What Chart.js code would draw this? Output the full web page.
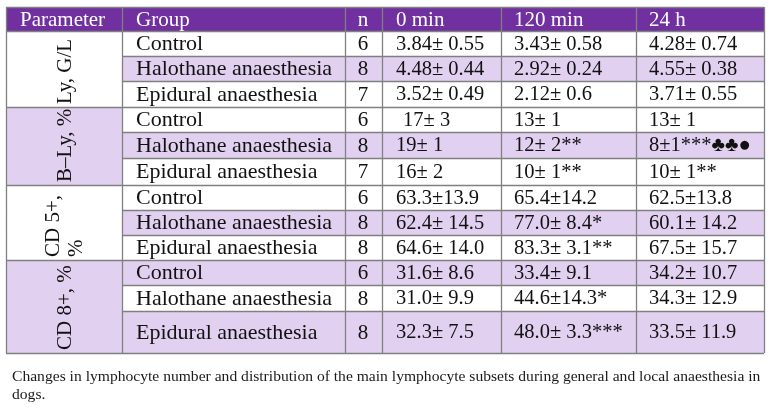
<!DOCTYPE html>
<html>
<head>
<meta charset="utf-8">
<script src="https://cdn.jsdelivr.net/npm/chart.js@4"></script>
<style>
  html, body { margin: 0; padding: 0; background: #fff; }
  #caja { width: 769px; height: 418px; }
</style>
</head>
<body>
<div id="caja"><canvas id="myChart" width="769" height="418"></canvas></div>
<script>
// datos de la tabla
const columnas = ["Parameter", "Group", "n", "0 min", "120 min", "24 h"];
const parametros = ["Ly, G/L", "B\u2013Ly, %", "CD 5+, %", "CD 8+, %"];
const grupos = ["Control", "Halothane anaesthesia", "Epidural anaesthesia"];
const nValores = [6, 8, 7, 6, 8, 7, 6, 8, 8, 6, 8, 8];
const valores0 = ["3.84\u00b1 0.55", "4.48\u00b1 0.44", "3.52\u00b1 0.49",
  "17\u00b1 3", "19\u00b1 1", "16\u00b1 2",
  "63.3\u00b113.9", "62.4\u00b1 14.5", "64.6\u00b1 14.0",
  "31.6\u00b1 8.6", "31.0\u00b1 9.9", "32.3\u00b1 7.5"];
const valores120 = ["3.43\u00b1 0.58", "2.92\u00b1 0.24", "2.12\u00b1 0.6",
  "13\u00b1 1", "12\u00b1 2**", "10\u00b1 1**",
  "65.4\u00b114.2", "77.0\u00b1 8.4*", "83.3\u00b1 3.1**",
  "33.4\u00b1 9.1", "44.6\u00b114.3*", "48.0\u00b1 3.3***"];
const valores24 = ["4.28\u00b1 0.74", "4.55\u00b1 0.38", "3.71\u00b1 0.55",
  "13\u00b1 1", "8\u00b11***\u2663\u2663\u25cf", "10\u00b1 1**",
  "62.5\u00b113.8", "60.1\u00b1 14.2", "67.5\u00b1 15.7",
  "34.2\u00b1 10.7", "34.3\u00b1 12.9", "33.5\u00b1 11.9"];
const leyenda = [
  "Changes in lymphocyte number and distribution of the main lymphocyte subsets during general and local anaesthesia in",
  "dogs."
];

// disposicion (posiciones y estilos, aparte de los datos)
const bordesX = [6, 122, 345, 382, 501, 636, 764];
const bordesY = [7, 31, 56, 81, 107, 132, 158, 185, 210, 235, 260, 285, 311, 353];
const filaRellena = [0, 1, 0, 0, 1, 0, 0, 1, 0, 1, 0, 1];
const paramRelleno = [0, 1, 0, 1];
const morado = "#7030a0";
const lila = "#e2d0f1";
const gris = "#808080";
const fuenteGrupo = "22px 'Liberation Serif', serif";
const fuenteValor = "20.5px 'Liberation Serif', serif";
const fuenteCab = "21px 'Liberation Serif', serif";

// plugin que dibuja la tabla usando las escalas del grafico
const pluginTabla = {
  id: "tabla",
  afterDraw(chart) {
    const ctx = chart.ctx;
    const sx = v => chart.scales.x.getPixelForValue(v);
    const sy = v => chart.scales.y.getPixelForValue(v);
    const celda = (x0, y0, x1, y1, color) => {
      ctx.fillStyle = color;
      ctx.fillRect(sx(x0), sy(y0), sx(x1) - sx(x0), sy(y1) - sy(y0));
    };
    ctx.save();

    // cabecera
    celda(bordesX[0], bordesY[0], bordesX[6], bordesY[1], morado);

    // fondos de filas
    filaRellena.forEach((r, i) => {
      if (r) celda(bordesX[1], bordesY[i + 1], bordesX[6], bordesY[i + 2], lila);
    });
    paramRelleno.forEach((r, g) => {
      if (r) celda(bordesX[0], bordesY[g * 3 + 1], bordesX[1], bordesY[g * 3 + 4], lila);
    });

    // lineas
    ctx.strokeStyle = gris;
    ctx.lineWidth = 1.3;
    ctx.beginPath();
    bordesY.forEach((y, i) => {
      const dentroGrupo = i > 1 && i < bordesY.length - 1 && (i - 1) % 3 !== 0;
      const x0 = dentroGrupo ? bordesX[1] : bordesX[0];
      ctx.moveTo(sx(x0), Math.round(sy(y)) + 0.5);
      ctx.lineTo(sx(bordesX[6]), Math.round(sy(y)) + 0.5);
    });
    bordesX.forEach(x => {
      ctx.moveTo(Math.round(sx(x)) + 0.5, sy(bordesY[0]));
      ctx.lineTo(Math.round(sx(x)) + 0.5, sy(bordesY[bordesY.length - 1]));
    });
    ctx.stroke();

    // textos de cabecera
    ctx.font = fuenteCab;
    ctx.textBaseline = "middle";
    ctx.fillStyle = "#ffffff";
    const medioCab = sy((bordesY[0] + bordesY[1]) / 2) + 1;
    ctx.textAlign = "left";
    ctx.fillText(columnas[0], sx(20), medioCab);
    ctx.fillText(columnas[1], sx(136), medioCab);
    ctx.textAlign = "center";
    ctx.fillText(columnas[2], sx(363), medioCab);
    ctx.textAlign = "left";
    ctx.fillText(columnas[3], sx(396), medioCab);
    ctx.fillText(columnas[4], sx(514), medioCab);
    ctx.fillText(columnas[5], sx(649), medioCab);

    // filas
    ctx.fillStyle = "#111111";
    nValores.forEach((n, i) => {
      const ym = sy((bordesY[i + 1] + bordesY[i + 2]) / 2) + 1;
      ctx.textAlign = "left";
      ctx.font = fuenteGrupo;
      ctx.fillText(grupos[i % 3], sx(136), ym);
      ctx.font = fuenteCab;
      ctx.textAlign = "center";
      ctx.fillText(String(n), sx(363), ym);
      ctx.textAlign = "left";
      ctx.font = fuenteValor;
      ctx.fillText(valores0[i], sx(i === 3 ? 403 : 396), ym);
      ctx.fillText(valores120[i], sx(514), ym);
      ctx.fillText(valores24[i], sx(649), ym);
    });

    // parametros girados
    ctx.font = fuenteCab;
    parametros.forEach((p, g) => {
      const abajo = sy(bordesY[g * 3 + 4]) - 3;
      const xm = sx((bordesX[0] + bordesX[1]) / 2);
      ctx.save();
      ctx.textAlign = "left";
      ctx.textBaseline = "middle";
      if (g === 2) {
        // este no cabe y se parte en dos lineas
        const partes = ["CD 5+,", "%"];
        ctx.translate(xm - 11, abajo);
        ctx.rotate(-Math.PI / 2);
        ctx.fillText(partes[0], 0, 0);
        ctx.fillText(partes[1], 0, 23);
      } else {
        ctx.translate(xm + 1, abajo);
        ctx.rotate(-Math.PI / 2);
        ctx.fillText(p, 0, 0);
      }
      ctx.restore();
    });

    // leyenda abajo
    ctx.font = "15.6px 'Liberation Serif', serif";
    ctx.textAlign = "left";
    ctx.textBaseline = "alphabetic";
    ctx.fillStyle = "#1a1a1a";
    ctx.fillText(leyenda[0], sx(12), sy(381));
    ctx.fillText(leyenda[1], sx(12), sy(399));

    ctx.restore();
  }
};

const config = {
  type: "scatter",
  data: { datasets: [{ data: [] }] },
  options: {
    responsive: false,
    animation: false,
    layout: { padding: 0 },
    plugins: { legend: { display: false }, tooltip: { enabled: false } },
    scales: {
      x: { type: "linear", min: 0, max: 769, display: false },
      y: { type: "linear", min: 0, max: 418, reverse: true, display: false }
    }
  },
  plugins: [pluginTabla]
};

const chartDOM = document.getElementById("myChart");
new Chart(chartDOM, config);
</script>
</body>
</html>
